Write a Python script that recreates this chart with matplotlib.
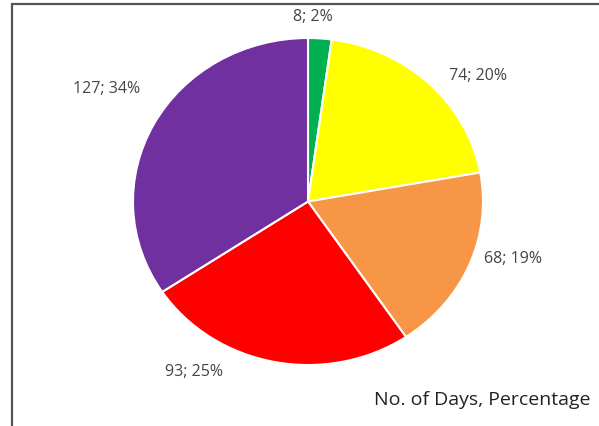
# Pie chart: number of days per category with percentage share
import matplotlib.pyplot as plt
from matplotlib.patches import Rectangle

# Data
days = [8, 74, 68, 93, 127]
percent_labels = ["2%", "20%", "19%", "25%", "34%"]
colors = ["#00B050", "#FFFF00", "#F79646", "#FF0000", "#7030A0"]

# Label positions (axes data units, pie radius = 1)
label_pos = [(0.03, 1.13), (0.97, 0.77), (1.17, -0.35), (-0.65, -1.04), (-1.15, 0.69)]

plt.rcParams["font.family"] = ["Open Sans", "DejaVu Sans"]

fig = plt.figure(figsize=(5.99, 4.26), dpi=100)
ax = fig.add_axes([133 / 599, 61 / 426, 350 / 599, 327 / 426])

ax.pie(days, colors=colors, startangle=90, counterclock=False,
       wedgeprops=dict(edgecolor="white", linewidth=1.5))
ax.set_aspect("auto")
ax.set_xlim(-1, 1)
ax.set_ylim(-1, 1)
ax.axis("off")

for d, p, (x, y) in zip(days, percent_labels, label_pos):
    ax.text(x, y, f"{d}; {p}", ha="center", va="center",
            fontsize=11.5, color="#454545")

fig.text(591 / 599, 1 - 400 / 426, "No. of Days, Percentage",
         ha="right", va="center", fontsize=14, color="#222222")

# Chart border (top and left edges visible)
fig.add_artist(Rectangle((12 / 599, -0.1), 1.2, 1 - 4 / 426 + 0.1,
                         transform=fig.transFigure, fill=False,
                         edgecolor="#555555", linewidth=1.6))

fig.savefig("out.png", dpi=100)
